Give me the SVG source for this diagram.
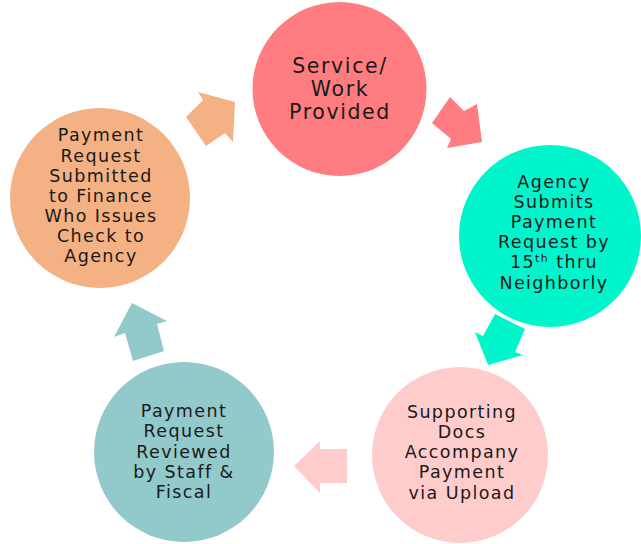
<svg xmlns="http://www.w3.org/2000/svg" width="641" height="544" viewBox="0 0 641 544">
<style>
text{font-family:"DejaVu Sans","Liberation Sans",sans-serif;fill:#1a1a1a;text-anchor:middle;}
.t{font-size:17.5px;letter-spacing:1.4px;}
.big{font-size:20.5px;letter-spacing:1.6px;}
</style>
<rect width="641" height="544" fill="#ffffff"/>
<g id="connectors">
<polygon points="198,92 235,102 233,142 225,133 206,146 186,117 203,100" fill="#F4B183"/>
<polygon points="450,97 464,111 477,104 482,142 447,148 451,139 432,123" fill="#FF7C80"/>
<polygon points="495,314 525,329 515,352 523,355 488,365 475,332 483,336" fill="#00F5CC"/>
<polygon points="294,466 320,441 320,449 347,449 347,483 320,483 320,493" fill="#FFCCCC"/>
<polygon points="132,303 167,321 157,324 164,351 133,361 125,333 114,337" fill="#92C9CB"/>
</g>
<g id="node-service">
<circle cx="339.5" cy="89" r="87" fill="#FF7C80"/>
<text class="big" x="340" y="73">Service/</text>
<text class="big" x="340" y="96">Work</text>
<text class="big" x="340" y="119">Provided</text>
</g>
<g id="node-agency">
<circle cx="550" cy="236" r="91" fill="#00F5CC"/>
<text class="t" x="554" y="188">Agency</text>
<text class="t" x="554" y="208">Submits</text>
<text class="t" x="554" y="228">Payment</text>
<text class="t" x="554" y="248">Request by</text>
<text class="t" x="554" y="268">15<tspan dy="-6" font-size="11">th</tspan><tspan dy="6"> thru</tspan></text>
<text class="t" x="554" y="289">Neighborly</text>
</g>
<g id="node-docs">
<circle cx="460" cy="455" r="88" fill="#FFCCCC"/>
<text class="t" x="462" y="418">Supporting</text>
<text class="t" x="462" y="438">Docs</text>
<text class="t" x="462" y="458">Accompany</text>
<text class="t" x="462" y="478">Payment</text>
<text class="t" x="462" y="499">via Upload</text>
</g>
<g id="node-review">
<circle cx="184" cy="452" r="90" fill="#92C9CB"/>
<text class="t" x="184" y="417">Payment</text>
<text class="t" x="184" y="437">Request</text>
<text class="t" x="184" y="458">Reviewed</text>
<text class="t" x="184" y="478">by Staff &amp;</text>
<text class="t" x="184" y="498">Fiscal</text>
</g>
<g id="node-finance">
<circle cx="100" cy="198" r="90" fill="#F4B183"/>
<text class="t" x="101" y="141">Payment</text>
<text class="t" x="101" y="162">Request</text>
<text class="t" x="101" y="182">Submitted</text>
<text class="t" x="101" y="202">to Finance</text>
<text class="t" x="101" y="222">Who Issues</text>
<text class="t" x="101" y="242">Check to</text>
<text class="t" x="101" y="262">Agency</text>
</g>
</svg>
